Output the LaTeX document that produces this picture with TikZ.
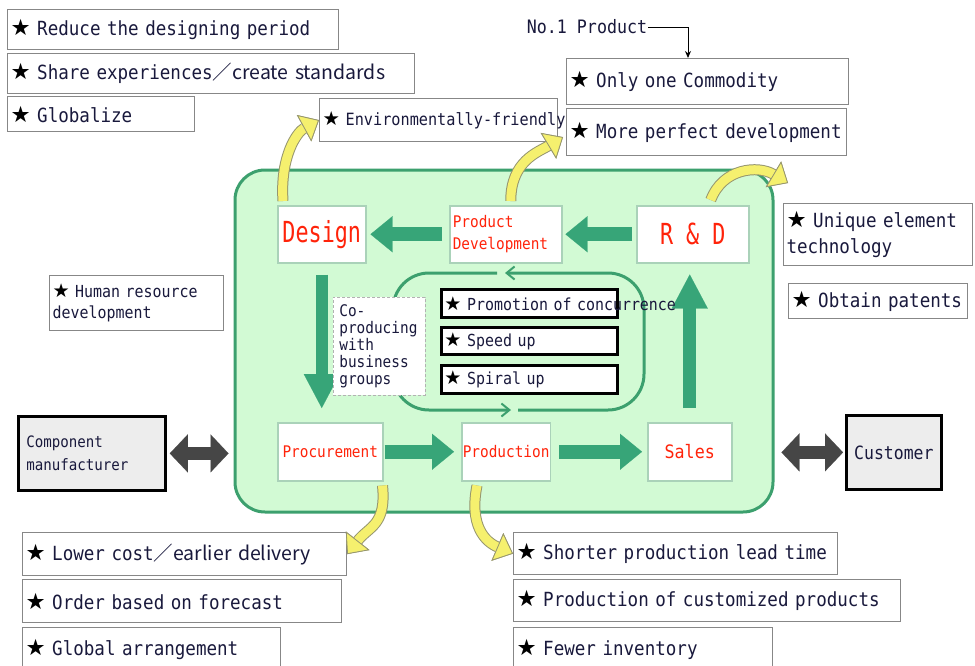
\documentclass[tikz,border=0pt]{standalone}
\usepackage{fontspec}
\newfontfamily\gothic[FakeStretch=0.9]{DejaVu Sans Mono}
\newfontfamily\tallgothic[FakeStretch=0.75]{DejaVu Sans Mono}
\newfontfamily\symf[Scale=1.15]{DejaVu Sans}
\newfontfamily\cjk{Noto Sans CJK JP}
\usetikzlibrary{arrows.meta,calc}

\definecolor{txt}{RGB}{25,25,60}
\definecolor{lblred}{RGB}{255,35,10}
\definecolor{pane}{RGB}{210,250,212}
\definecolor{paneedge}{RGB}{60,160,110}
\definecolor{flowgreen}{RGB}{55,165,120}
\definecolor{stageedge}{RGB}{170,210,185}
\definecolor{notegray}{RGB}{135,135,135}
\definecolor{linkgray}{RGB}{70,70,70}
\definecolor{liftfill}{RGB}{245,240,110}
\definecolor{liftedge}{RGB}{150,150,110}

\newcommand\starmark{{\color{black}\symf ★}}
\newcommand\itm[1]{\mbox{\starmark\ #1}}
\newcommand\fsz[2]{\fontsize{#1pt}{#2pt}\selectfont}

\begin{document}
\begin{tikzpicture}[x=1pt, y=-1pt,
  note/.style={draw=notegray, line width=1.2pt, fill=white, anchor=north west, inner xsep=3pt, inner ysep=0pt, align=left, text=txt, font=\gothic\fsz{19.5}{26}},
  small/.style={font=\gothic\fsz{16.6}{21}},
  stage/.style={draw=stageedge, line width=1.5pt, fill=white, anchor=north west, inner sep=1pt, text=lblred, font=\gothic\fsz{16}{22}},
  point/.style={draw=black, line width=2.8pt, fill=white, anchor=north west, inner xsep=3pt, inner ysep=0pt, align=left, text=txt, font=\gothic\fsz{16.6}{20}},
  party/.style={draw=black, line width=2.8pt, fill=black!7, anchor=north west, text=txt},
  flow/.style={draw=flowgreen, line width=14pt, -{Triangle[length=22pt, width=36pt, line width=0.1pt]}},
  rise/.style={flow, line width=13pt, -{Triangle[length=34pt, width=36pt, line width=0.1pt]}},
  link/.style={draw=linkgray, line width=13pt, {Triangle[length=18pt, width=38pt, line width=0.1pt]}-{Triangle[length=18pt, width=38pt, line width=0.1pt]}},
  lift/.style={draw=liftfill, line width=9pt, -{Triangle[length=17pt, width=30pt, line width=0.8pt, color=liftedge, fill=liftfill]}, preaction={draw=liftedge, line width=11pt}},
  loop/.style={draw=paneedge, line width=3pt, rounded corners=36pt, -{Straight Barb[length=8pt, width=13pt, line width=2pt]}},
]
\fill[white] (0,0) rectangle (975,665);
\useasboundingbox (0,0) rectangle (975,665);

% green work area
\node[draw=paneedge, line width=3pt, fill=pane, rounded corners=30pt, minimum width=538pt, minimum height=342pt] (frame) at (504,341) {};

% inner cycle
\draw[loop] (518,410) -- (644,410) -- (644,273) -- (505,273);
\draw[loop] (497,273) -- (393,273) -- (393,410) -- (511,410);

% stages
\node[stage, minimum width=88pt, minimum height=57pt, font=\tallgothic\fsz{29}{32}] (design) at (277,205) {Design};
\node[stage, text width=106pt, inner xsep=3pt, minimum height=57pt, align=left] (pdev) at (449,205) {Product\\Development};
\node[stage, minimum width=112pt, minimum height=57pt, font=\tallgothic\fsz{29}{32}] (rd) at (636,205) {R \& D};
\node[stage, minimum width=105pt, minimum height=58pt] (proc) at (277,422) {Procurement};
\node[stage, minimum width=87pt, minimum height=58pt] (prodn) at (461,422) {Production};
\node[stage, minimum width=84pt, minimum height=58pt, font=\gothic\fsz{18.5}{22}] (sales) at (647,422) {Sales};

\draw[flow, shorten <=7pt, shorten >=4pt] (pdev.west) -- (design.east);
\draw[flow, shorten <=4pt, shorten >=3pt] (rd.west) -- (pdev.east);
\draw[rise, line width=12pt, shorten <=11pt, shorten >=14pt] (design.south) -- (design.south |- proc.north);
\draw[flow, shorten <=1pt, shorten >=7pt] (proc.east) -- (prodn.west);
\draw[flow, shorten <=8pt, shorten >=5pt] (prodn.east) -- (sales.west);
\draw[rise, shorten <=14pt, shorten >=11pt] (sales.north) -- (sales.north |- rd.south);

\node[draw=gray!60, densely dashed, line width=0.8pt, fill=white, anchor=north west, text width=80pt, inner xsep=6pt, inner ysep=0pt, minimum height=98pt, align=left, text=txt, font=\gothic\fsz{16}{17}] (coprod) at (333,297) {Co-\\producing\\with\\business\\groups};

\node[point, text width=170pt, minimum height=28pt] (promo) at (440,288) {\itm{Promotion of concurrence}};
\node[point, text width=170pt, minimum height=27pt] (speed) at (440,326) {\itm{Speed up}};
\node[point, text width=170pt, minimum height=28pt] (spiral) at (440,364) {\itm{Spiral up}};

% outside parties
\node[party, text width=131pt, inner xsep=8pt, minimum height=74pt, align=left, font=\gothic\fsz{15.7}{23}] (comp) at (17,415) {Component\\manufacturer};
\node[party, minimum width=95pt, minimum height=74pt, font=\gothic\fsz{18.3}{22}] (cust) at (845,414) {Customer};
\draw[link, shorten <=3pt, shorten >=5pt] (comp.east) -- (comp.east -| frame.west);
\draw[link, shorten <=2pt, shorten >=7pt] (cust.west) -- (cust.west -| frame.east);

% goals
\node[note, text width=325pt, minimum height=40pt] (reduce) at (7,9) {\itm{Reduce the designing period}};
\node[note, text width=401pt, minimum height=40pt] (share) at (7,53) {\itm{Share experiences\cjk{／}create standards}};
\node[note, text width=181pt, minimum height=35pt] (glob) at (7,96) {\itm{Globalize}};
\node[note, font=\gothic\fsz{16.9}{22}, text width=232pt, minimum height=43pt] (env) at (319,98) {\itm{Environmentally-friendly}};
\node[text=txt, font=\gothic\fsz{18.5}{22}, inner sep=1pt] (no1) at (587,27) {No.1 Product};
\node[note, text width=276pt, minimum height=46pt] (only) at (566,58) {\itm{Only one Commodity}};
\node[note, text width=274pt, minimum height=47pt] (perfect) at (566,108) {\itm{More perfect development}};
\draw[line width=1pt, -{Stealth[length=7pt, width=6pt]}] (no1.east) -| ($(only.north west)+(122,0)$);
\node[note, text width=183pt, minimum height=62pt] (unique) at (783,203) {\itm{Unique element}\\technology};
\node[note, text width=173pt, minimum height=35pt] (patents) at (788,283) {\itm{Obtain patents}};
\node[note, small, text width=168pt, minimum height=55pt] (human) at (49,275) {\itm{Human resource}\\development};
\node[note, text width=318pt, minimum height=43pt] (lower) at (22,532) {\itm{Lower cost\cjk{／}earlier delivery}};
\node[note, text width=313pt, minimum height=43pt] (order) at (22,579) {\itm{Order based on forecast}};
\node[note, text width=252pt, minimum height=43pt] (global) at (22,627) {\itm{Global arrangement}};
\node[note, text width=318pt, minimum height=42pt] (shorter) at (513,532) {\itm{Shorter production lead time}};
\node[note, text width=381pt, minimum height=42pt] (custom) at (513,579) {\itm{Production of customized products}};
\node[note, text width=253pt, minimum height=43pt] (fewer) at (513,627) {\itm{Fewer inventory}};

% yellow hooks
\draw[lift] ($(design.north west)+(6,-4)$) .. controls +(-3,-45) and +(-22,12) .. (env.west);
\draw[lift] ($(pdev.north)+(5,-4)$) .. controls +(0,-40) and +(-25,15) .. ($(perfect.west)+(-3,5)$);
\draw[lift] ($(rd.north)+(18,-5)$) .. controls +(12,-32) and +(-30,-18) .. ($(unique.north west)+(5,-20)$);
\draw[lift] ($(proc.south east)+(-1,4)$) .. controls +(4,40) and +(22,-28) .. (lower.east);
\draw[lift] ($(prodn.south west)+(16,4)$) .. controls +(-8,40) and +(-28,-12) .. (shorter.west);
\end{tikzpicture}
\end{document}
